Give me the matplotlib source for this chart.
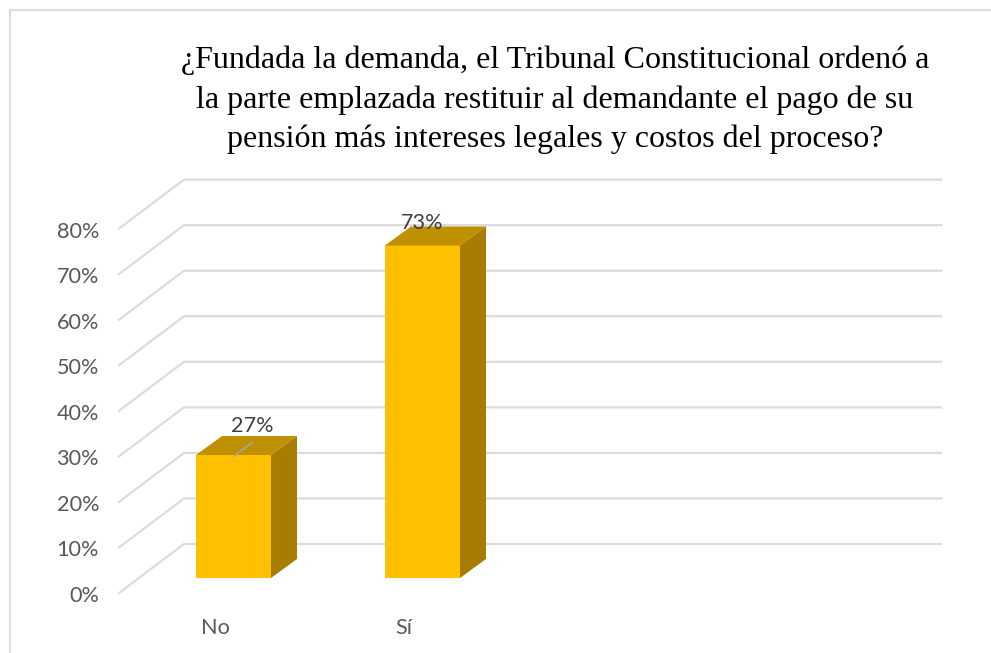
import matplotlib
matplotlib.use("Agg")
import matplotlib.pyplot as plt
from matplotlib.patches import Polygon

categories = ["No", "Sí"]
values = [27, 73]
value_labels = ["27%", "73%"]
ticks = [0, 10, 20, 30, 40, 50, 60, 70, 80]
tick_labels = ["0%", "10%", "20%", "30%", "40%", "50%", "60%", "70%", "80%"]
title_lines = ["¿Fundada la demanda, el Tribunal Constitucional ordenó a",
               "la parte emplazada restituir al demandante el pago de su",
               "pensión más intereses legales y costos del proceso?"]

W, H = 991, 653
PX_PER_VAL = 4.555
PX_PER_CAT = 189.0
X0, Y0 = 233.5, 578.0   # pixel position of first category / value 0 at bar base

fig = plt.figure(figsize=(W / 100, H / 100), dpi=100, facecolor="white")
ax = fig.add_axes([0, 0, 1, 1])
ax.set_xlim(-X0 / PX_PER_CAT, (W - X0) / PX_PER_CAT)
ax.set_ylim((Y0 - H) / PX_PER_VAL, Y0 / PX_PER_VAL)
ax.axis("off")

def dx(p): return p / PX_PER_CAT
def dy(p): return p / PX_PER_VAL
def xp(p): return (p - X0) / PX_PER_CAT
def yp(p): return (Y0 - p) / PX_PER_VAL

# chart frame
frame = "#DEDEDE"
ax.plot([xp(10), xp(10), xp(W)], [yp(H), yp(9.5), yp(9.5)], color=frame, lw=1.6,
        solid_capstyle="butt", solid_joinstyle="miter")

# walls
grid = "#DCDCDC"
base_front = yp(593)      # value 0 on the front edge
base_back = yp(544)       # value 0 on the back wall
for t, lab in zip(ticks, tick_labels):
    yf = base_front + t
    yb = base_back + t
    ax.plot([xp(119), xp(184), xp(941)], [yf, yb, yb], color=grid, lw=1.6,
            solid_joinstyle="miter", zorder=1)
    ax.text(xp(99), yf - dy(3), lab, ha="right", va="center", family="Lato", fontsize=15.6,
            color="#595959", zorder=5)

# bars
half = 37.5
ox, oy = 26, 19
for i, (cat, v, vl) in enumerate(zip(categories, values, value_labels)):
    l, r = i - dx(half), i + dx(half)
    ax.add_patch(Polygon([(l, 0), (r, 0), (r, v), (l, v)], fc="#FFC000", ec="none", zorder=3))
    ax.add_patch(Polygon([(r, 0), (r + dx(ox), dy(oy)), (r + dx(ox), v + dy(oy)), (r, v)],
                         fc="#A67D00", ec="none", zorder=3))
    ax.add_patch(Polygon([(l, v), (r, v), (r + dx(ox), v + dy(oy)), (l + dx(ox), v + dy(oy))],
                         fc="#BF9000", ec="none", zorder=3))
    ax.text(i - dx(18.5), yp(628), cat, ha="center", va="center",
            family="Lato", fontsize=15.6, color="#595959", zorder=5)

# data labels
ax.plot([0 + dx(1), 0 + dx(19)], [values[0] - dy(1), values[0] + dy(13)], color="#A6A6A6",
        lw=1.2, zorder=4)
ax.text(0 + dx(19), values[0] + dy(29), value_labels[0], ha="center", va="center",
        family="Lato", fontsize=15.6, color="#404040", zorder=5)
ax.text(1 + dx(0), values[1] + dy(22), value_labels[1], ha="center", va="center",
        family="Lato", fontsize=15.6, color="#404040", zorder=5)

# title
for line, py in zip(title_lines, [60, 100, 139]):
    ax.text(xp(555), yp(py), line, ha="center", va="center", family="Liberation Serif",
            fontsize=23.05, color="#000000", zorder=5)

fig.savefig("out.png", dpi=100, facecolor="white")
